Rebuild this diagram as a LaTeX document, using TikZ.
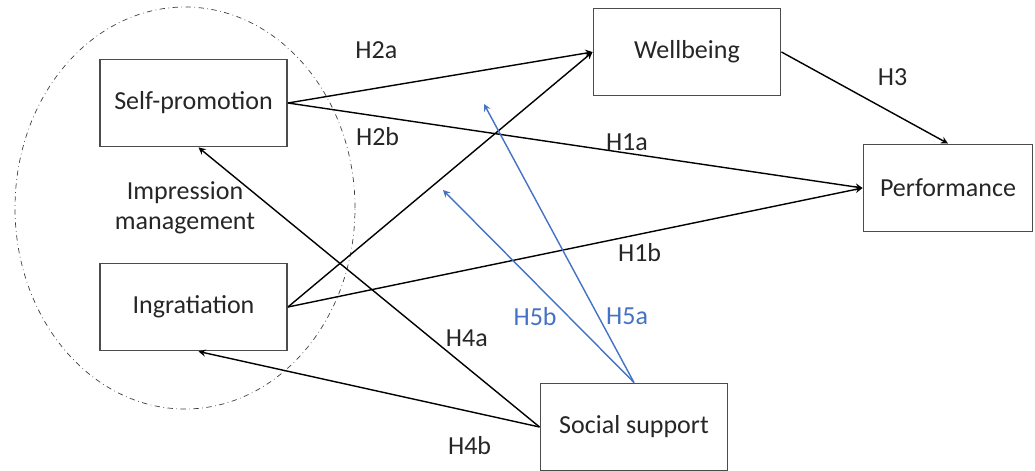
\documentclass[tikz,border=0pt]{standalone}
\usepackage{fontspec}
\setmainfont{Carlito}
\usepackage{tikz}
\usetikzlibrary{shapes.geometric, arrows, positioning}
\definecolor{modblue}{RGB}{68,114,196}
\tikzstyle{factor} = [rectangle, minimum width=3.74cm, minimum height=1.74cm, text centered, draw=black!70, line width=1.1pt, fill=white, text=black!85]
\tikzstyle{cluster} = [ellipse, minimum width=6.8cm, minimum height=8.04cm, align=center, draw=black!75, dash dot, text=black!85]
\tikzstyle{arrow} = [thick,->,>=stealth]
\tikzstyle{modarrow} = [arrow, draw=modblue]
\tikzstyle{hyp} = [text=black!85]
\tikzstyle{modhyp} = [text=modblue]

\begin{document}
\begin{tikzpicture}[node distance=4.08cm, font=\fontsize{14.8}{17}\selectfont]
\useasboundingbox (-3.87,2.06) rectangle (16.83,-7.36);
\node (sp) [factor] at (0,0) {Self-promotion};
\node (ing) [factor, below of=sp] {Ingratiation};
\node (wb) [factor, right of=sp, xshift=5.79cm, yshift=1.02cm] {Wellbeing};
\node (perf) [factor, minimum width=3.38cm, right of=wb, xshift=1.14cm, yshift=-2.72cm] {Performance};
\node (ss) [factor, right of=ing, xshift=4.73cm, yshift=-2.4cm] {Social support};
\node (im) [cluster, below of=sp, yshift=1.98cm, xshift=-0.17cm] {Impression\\management};
% ends of the moderating arrows
\coordinate (h5a) at ([xshift=-3cm, yshift=6.46cm]ss.center);
\coordinate (h5b) at ([xshift=-3.82cm, yshift=4.74cm]ss.center);
\draw [arrow] (sp.east) -- node[hyp, pos=0.29, yshift=0.77cm] (l2a) {H2a} (wb.west);
\draw [arrow] (ing.east) -- (wb.west);
\draw [arrow] (sp.east) -- node[hyp, pos=0.156, yshift=-0.41cm] (l2b) {H2b} node[hyp, pos=0.59, yshift=0.22cm] (l1a) {H1a} (perf.west);
\draw [arrow] (ing.east) -- node[hyp, pos=0.612, yshift=-0.37cm] (l1b) {H1b} (perf.west);
\draw [arrow] (wb.east) -- node[hyp, pos=0.667, yshift=0.72cm] (l3) {H3} (perf.north);
\draw [arrow] (ss.west) -- node[hyp, pos=0.213, yshift=0.58cm] (l4a) {H4a} ([xshift=0.1cm]sp.south);
\draw [arrow] (ss.west) -- node[hyp, pos=0.205, yshift=-0.68cm] (l4b) {H4b} ([xshift=0.1cm]ing.south);
\draw [modarrow] (ss.north) -- node[modhyp, pos=0.239, xshift=0.58cm] (l5a) {H5a} (h5a);
\draw [modarrow] (ss.north) -- node[modhyp, pos=0.345, xshift=-0.66cm] (l5b) {H5b} (h5b);
\end{tikzpicture}
\end{document}
